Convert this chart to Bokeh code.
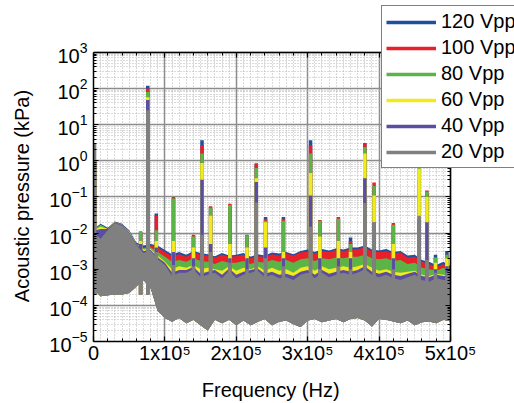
from bokeh.plotting import figure
from bokeh.models import (LinearAxis, LogAxis, FixedTicker, Legend, LegendItem, Grid,
                          LogTickFormatter, CustomJSTickFormatter)
from bokeh.embed import file_html
from bokeh.resources import INLINE

# ---------------- data ----------------
series_names = ["120 Vpp", "100 Vpp", "80 Vpp", "60 Vpp", "40 Vpp", "20 Vpp"]
series_colors = ["#1f4f9f", "#e8202a", "#5cb446", "#f2ea1d", "#5a4ea2", "#808080"]

x_title = "Frequency (Hz)"
y_title = "Acoustic pressure (kPa)"

# noise-band envelopes sampled every 10 kHz (kPa)
freq_khz = [0, 10, 20, 30, 40, 50, 60, 70, 80, 90, 100, 110, 120, 130, 140, 150, 160,
            170, 180, 190, 200, 210, 220, 230, 240, 250, 260, 270, 280, 290, 300, 310,
            320, 330, 340, 350, 360, 370, 380, 390, 400, 410, 420, 430, 440, 450, 460,
            470, 480, 490, 500]

noise_lower = [2.8e-4, 1.8e-4, 1.9e-4, 2.0e-4, 2.0e-4, 2.2e-4, 3.3e-4, 5.0e-4, 3.0e-4, 7.0e-5,
               4.5e-5, 3.5e-5, 4.5e-5, 3.2e-5, 4.0e-5, 2.8e-5, 2.0e-5, 4.0e-5, 3.2e-5, 4.0e-5,
               2.8e-5, 3.8e-5, 2.8e-5, 3.5e-5, 4.2e-5, 2.8e-5, 3.5e-5, 3.8e-5, 3.0e-5, 2.5e-5,
               3.8e-5, 4.2e-5, 3.4e-5, 3.8e-5, 4.2e-5, 3.4e-5, 4.2e-5, 4.5e-5, 3.8e-5, 2.6e-5,
               4.2e-5, 4.0e-5, 3.6e-5, 3.2e-5, 3.8e-5, 2.8e-5, 3.4e-5, 3.6e-5, 3.2e-5, 4.0e-5,
               3.6e-5]

upper_120 = [1.3e-2, 1.8e-2, 1.4e-2, 2.1e-2, 1.8e-2, 1.2e-2, 5.5e-3, 4.5e-3, 5.0e-3, 4.5e-3,
             3.4e-3, 2.6e-3, 3.0e-3, 2.5e-3, 3.2e-3, 2.8e-3, 2.6e-3, 2.3e-3, 2.8e-3, 2.4e-3,
             2.5e-3, 2.8e-3, 2.2e-3, 2.6e-3, 2.4e-3, 2.9e-3, 2.7e-3, 3.0e-3, 2.6e-3, 3.2e-3,
             3.5e-3, 3.0e-3, 3.6e-3, 3.3e-3, 3.8e-3, 3.5e-3, 4.0e-3, 4.0e-3, 4.5e-3, 3.5e-3,
             3.3e-3, 3.6e-3, 3.0e-3, 3.2e-3, 2.4e-3, 2.5e-3, 1.8e-3, 1.6e-3, 1.3e-3, 1.6e-3,
             1.2e-3]
upper_100 = [1.2e-2, 1.6e-2, 1.3e-2, 2.0e-2, 1.7e-2, 1.1e-2, 5.0e-3, 4.0e-3, 4.5e-3, 4.0e-3,
             3.0e-3, 2.3e-3, 2.6e-3, 2.2e-3, 2.9e-3, 2.5e-3, 2.4e-3, 2.1e-3, 2.5e-3, 2.2e-3,
             2.3e-3, 2.5e-3, 2.0e-3, 2.3e-3, 2.2e-3, 2.6e-3, 2.4e-3, 2.7e-3, 2.4e-3, 2.9e-3,
             3.1e-3, 2.7e-3, 3.2e-3, 3.0e-3, 3.4e-3, 3.2e-3, 3.5e-3, 3.6e-3, 4.0e-3, 3.2e-3,
             3.0e-3, 3.2e-3, 2.7e-3, 2.9e-3, 2.1e-3, 2.2e-3, 1.6e-3, 1.4e-3, 1.15e-3, 1.4e-3,
             1.05e-3]
upper_80 = [1.25e-2, 1.7e-2, 1.3e-2, 2.0e-2, 1.7e-2, 1.1e-2, 5.0e-3, 3.8e-3, 4.0e-3, 3.0e-3,
            2.2e-3, 1.6e-3, 1.8e-3, 1.6e-3, 2.0e-3, 1.7e-3, 1.6e-3, 1.4e-3, 1.7e-3, 1.5e-3,
            1.5e-3, 1.7e-3, 1.4e-3, 1.6e-3, 1.5e-3, 1.8e-3, 1.6e-3, 1.8e-3, 1.5e-3, 1.9e-3,
            2.0e-3, 1.7e-3, 2.0e-3, 1.9e-3, 2.1e-3, 2.0e-3, 2.2e-3, 2.2e-3, 2.5e-3, 2.0e-3,
            1.9e-3, 2.0e-3, 1.7e-3, 1.8e-3, 1.4e-3, 1.5e-3, 1.1e-3, 1.0e-3, 9.0e-4, 1.1e-3,
            8.5e-4]
upper_60 = [1.2e-2, 1.5e-2, 1.3e-2, 2.0e-2, 1.7e-2, 1.1e-2, 5.0e-3, 3.5e-3, 3.6e-3, 2.4e-3,
            1.6e-3, 1.0e-3, 1.2e-3, 1.1e-3, 1.3e-3, 1.0e-3, 1.1e-3, 1.0e-3, 9.0e-4, 1.2e-3,
            9.0e-4, 1.1e-3, 1.0e-3, 1.2e-3, 9.0e-4, 1.1e-3, 9.0e-4, 1.0e-3, 8.0e-4, 1.1e-3,
            1.2e-3, 9.0e-4, 1.2e-3, 1.0e-3, 1.1e-3, 1.2e-3, 1.1e-3, 1.2e-3, 1.4e-3, 1.1e-3,
            9.0e-4, 1.0e-3, 8.5e-4, 8.0e-4, 8.5e-4, 9.0e-4, 7.0e-4, 6.5e-4, 7.5e-4, 7.0e-4,
            6.5e-4]
upper_40 = [1.15e-2, 1.3e-2, 1.3e-2, 2.0e-2, 1.7e-2, 1.05e-2, 5.0e-3, 3.2e-3, 3.4e-3, 2.1e-3,
            1.5e-3, 8.0e-4, 9.5e-4, 9.5e-4, 1.15e-3, 7.5e-4, 8.5e-4, 9.5e-4, 7.0e-4, 1.05e-3,
            7.0e-4, 8.5e-4, 9.5e-4, 1.05e-3, 7.5e-4, 8.5e-4, 7.0e-4, 7.5e-4, 6.5e-4, 8.5e-4,
            9.5e-4, 7.0e-4, 9.5e-4, 7.5e-4, 8.5e-4, 9.5e-4, 8.5e-4, 9.5e-4, 1.2e-3, 8.5e-4,
            7.5e-4, 8.5e-4, 7.0e-4, 6.5e-4, 7.5e-4, 8.5e-4, 6.5e-4, 6.0e-4, 7.0e-4, 6.5e-4,
            6.5e-4]
upper_20 = [1.0e-2, 7.0e-3, 1.2e-2, 1.9e-2, 1.6e-2, 1.0e-2, 4.7e-3, 2.8e-3, 3.2e-3, 1.9e-3,
            1.3e-3, 6.5e-4, 8.0e-4, 8.0e-4, 1.0e-3, 6.0e-4, 7.0e-4, 8.0e-4, 5.6e-4, 9.0e-4,
            5.6e-4, 7.0e-4, 8.0e-4, 9.0e-4, 6.0e-4, 7.0e-4, 5.6e-4, 6.0e-4, 5.0e-4, 7.0e-4,
            8.0e-4, 5.6e-4, 8.0e-4, 6.0e-4, 7.0e-4, 8.0e-4, 7.0e-4, 8.0e-4, 1.0e-3, 7.0e-4,
            6.0e-4, 7.0e-4, 5.6e-4, 5.0e-4, 6.0e-4, 7.0e-4, 5.0e-4, 4.5e-4, 5.6e-4, 5.0e-4,
            5.0e-4]

# spectral peaks (kHz) and their heights per series (kPa)
peak_khz = [1.5, 66, 76, 88, 112, 140, 152, 164, 191, 215, 228, 241, 266, 304, 317, 343,
            360, 380, 393, 420, 456, 467, 479, 495]
peaks_120 = [1.0, 0.011, 120, 0.035, 0.09, 0.008, 3.7, 0.05, 0.06, 0.009, 0.8, 0.028, 0.028,
             3.7, 0.022, 0.025, 0.0076, 3.0, 0.2, 0.017, 0.3, 0.12, 0.0025, 0.0032]
peaks_100 = [1.0, 0.01, 100, 0.03, 0.1, 0.009, 2.7, 0.055, 0.065, 0.008, 0.85, 0.025, 0.025,
             2.7, 0.023, 0.028, 0.006, 3.1, 0.25, 0.019, 0.3, 0.15, 0.002, 0.0025]
peaks_80 = [1.0, 0.011, 80, 0.012, 0.09, 0.008, 1.6, 0.05, 0.06, 0.0087, 0.63, 0.022, 0.022,
            1.6, 0.022, 0.025, 0.005, 2.4, 0.2, 0.017, 0.65, 0.14, 0.0021, 0.0025]
peaks_60 = [1.0, 0.006, 57, 0.006, 0.006, 0.004, 0.87, 0.03, 0.005, 0.004, 0.33, 0.02, 0.003,
            0.46, 0.008, 0.006, 0.003, 1.6, 0.11, 0.005, 0.6, 0.1, 0.0015, 0.002]
peaks_40 = [1.0, 0.005, 48, 0.004, 0.003, 0.002, 0.3, 0.005, 0.002, 0.002, 0.26, 0.004, 0.002,
            0.11, 0.002, 0.002, 0.002, 0.33, 0.02, 0.002, 0.025, 0.02, 0.001, 0.0012]
peaks_20 = [3.0, 0.003, 25, 0.003, 0.0013, 0.0012, 0.009, 0.003, 0.0015, 0.001, 0.07, 0.002,
            0.0012, 0.015, 0.001, 0.0012, 0.001, 0.068, 0.02, 0.001, 0.03, 0.0018, 0.0008, 0.0008]
peak_base = 2.0e-4

x_min, x_max = 0, 500000
y_min, y_max = 1e-5, 1e3
x_tick_values = [0, 100000, 200000, 300000, 400000, 500000]
x_tick_labels = ["0", "1x10\u2075", "2x10\u2075", "3x10\u2075", "4x10\u2075", "5x10\u2075"]
y_tick_values = [1e-5, 1e-4, 1e-3, 1e-2, 1e-1, 1e0, 1e1, 1e2, 1e3]

uppers = [upper_120, upper_100, upper_80, upper_60, upper_40, upper_20]
peaks = [peaks_120, peaks_100, peaks_80, peaks_60, peaks_40, peaks_20]

# ---------------- layout geometry (pixels) ----------------
W, H = 514, 403
BOX_L, BOX_T, BOX_R, BOX_B = 93, 52, 450, 342     # visible plot box
FRAME_W = W - BOX_L                                 # frame runs to the right edge
BOX_W, BOX_H = BOX_R - BOX_L, BOX_B - BOX_T
# the Bokeh frame is extended up and right so the legend can overlap the box border
x_end = x_max * FRAME_W / BOX_W
y_end = y_max * (y_max / y_min) ** (BOX_T / BOX_H)
# axis titles are centred on the extended frame; non-breaking padding recentres them on the box
NBSP = "\u00a0"
x_title_pad = NBSP * 12
y_title_pad = NBSP * 9

FONT = "Liberation Sans"
p = figure(width=W, height=H, x_range=(x_min, x_end), y_range=(y_min, y_end),
           y_axis_type="log", output_backend="svg", toolbar_location=None,
           min_border_left=BOX_L, min_border_right=0, min_border_top=0,
           min_border_bottom=H - BOX_B)
p.background_fill_color = "white"
p.border_fill_color = "white"
p.outline_line_color = None

freq_hz = [f * 1000 for f in freq_khz]
peak_hz = [f * 1000 for f in peak_khz]

x_minor_ticks = [v for v in range(20000, 500000, 20000) if v % 100000 != 0]
x_grid_minor = [v for v in range(10000, 500000, 10000) if v % 100000 != 0]
y_minor_ticks = [m * 10.0 ** e for e in range(-5, 3) for m in range(2, 10)]

x_ticker = FixedTicker(ticks=x_tick_values, minor_ticks=x_minor_ticks)
x_grid_ticker = FixedTicker(ticks=x_tick_values, minor_ticks=x_grid_minor)
y_ticker = FixedTicker(ticks=y_tick_values, minor_ticks=y_minor_ticks)

x_fmt = CustomJSTickFormatter(args=dict(vals=x_tick_values, labs=x_tick_labels), code="""
    for (let i = 0; i < vals.length; i++) { if (Math.abs(vals[i] - tick) < 1) return labs[i]; }
    return "";
""")
blank_fmt = CustomJSTickFormatter(code="return '';")

has_cross = "cross_bounds" in Grid.properties()
if not has_cross:
    p.quad(left=[x_min, x_max], right=[x_end, x_end], bottom=[y_max, y_min], top=[y_end, y_end],
           fill_color="white", line_color=None, level="underlay")

items = []
for name, color, up, pk in zip(series_names, series_colors, uppers, peaks):
    p.varea(x=freq_hz, y1=noise_lower, y2=up, fill_color=color, fill_alpha=1.0)
    r = p.segment(x0=peak_hz, y0=[peak_base] * len(peak_hz), x1=peak_hz, y1=pk,
                  line_color=color, line_width=3.5, line_cap="butt")
    items.append(LegendItem(label=name, renderers=[r]))

def style_axis(ax):
    ax.axis_line_color = "black"
    ax.axis_line_width = 1.5
    ax.major_tick_line_color = "black"
    ax.minor_tick_line_color = "black"
    ax.major_tick_in = 5
    ax.major_tick_out = 0
    ax.minor_tick_in = 3
    ax.minor_tick_out = 0
    ax.major_tick_line_width = 1.2
    ax.minor_tick_line_width = 1
    ax.major_label_text_font = FONT
    ax.major_label_text_font_size = "20px"
    ax.major_label_text_color = "black"
    ax.axis_label_text_font = FONT
    ax.axis_label_text_font_size = "20px"
    ax.axis_label_text_font_style = "normal"
    ax.axis_label_text_color = "black"

xa = p.xaxis[0]
style_axis(xa)
xa.ticker = x_ticker
xa.formatter = x_fmt
xa.bounds = (x_min, x_max)
xa.axis_label = x_title + x_title_pad
xa.major_label_standoff = 0
xa.axis_label_standoff = 12

ya = p.yaxis[0]
style_axis(ya)
ya.ticker = y_ticker
ya.formatter = LogTickFormatter()
ya.bounds = (y_min, y_max)
ya.axis_label = y_title + y_title_pad
ya.major_label_standoff = 6
ya.axis_label_standoff = 13

top = LinearAxis(ticker=x_ticker, formatter=blank_fmt, fixed_location=y_max, bounds=(x_min, x_max))
style_axis(top)
top.major_label_standoff = 0
p.add_layout(top, "above")

right = LogAxis(ticker=y_ticker, formatter=blank_fmt, fixed_location=x_max, bounds=(y_min, y_max))
style_axis(right)
right.major_label_standoff = 0
p.add_layout(right, "right")

p.xgrid.ticker = x_grid_ticker
p.ygrid.ticker = y_ticker
xg, yg = p.xgrid[0], p.ygrid[0]
xg.bounds = (x_min, x_max)
yg.bounds = (y_min, y_max)
if has_cross:
    xg.cross_bounds = (y_min, y_max)
    yg.cross_bounds = (x_min, x_max)
for g in (xg, yg):
    g.grid_line_color = "#8c8c8c"
    g.grid_line_width = 1.5
    g.minor_grid_line_color = "#b4b4b4"
    g.minor_grid_line_width = 1
    g.minor_grid_line_dash = "1 2"

# legend: box top-left at (381, 8) px; location is measured from the frame's bottom-left
legend = Legend(items=items, location=(381 - BOX_L, BOX_B - 169), label_text_font=FONT,
                label_text_font_size="20px", label_text_color="black",
                glyph_width=50, glyph_height=22, label_height=22, spacing=3, padding=4,
                label_standoff=5, border_line_color="black", border_line_width=1,
                background_fill_color="white", background_fill_alpha=1.0, margin=0)
p.add_layout(legend)

open("out.html", "w").write(file_html(p, INLINE))
